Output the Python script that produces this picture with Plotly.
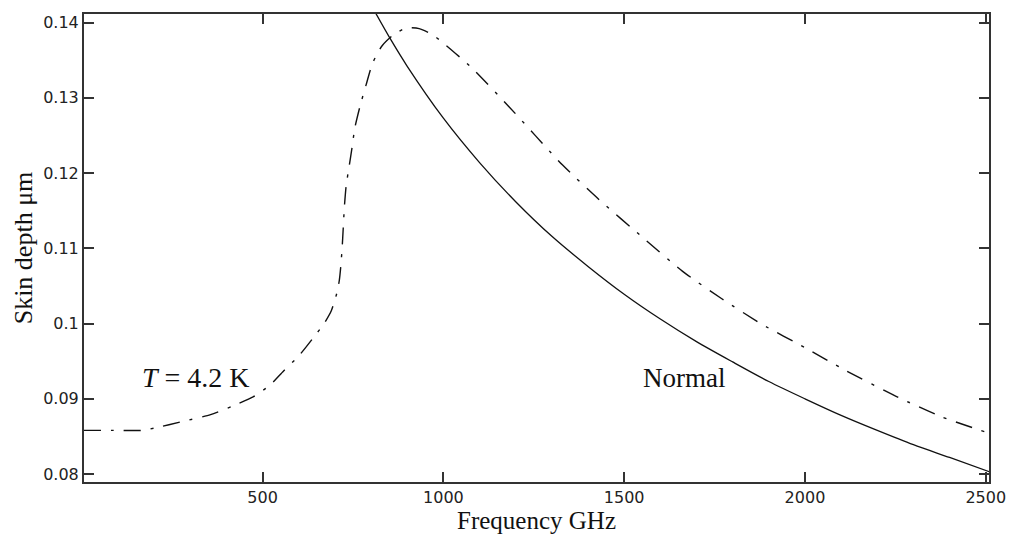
import plotly.graph_objects as go

# Normal-metal skin depth (solid curve)
freq_normal = [810, 855, 900, 1000, 1100, 1200, 1300, 1400, 1500, 1600, 1700,
               1800, 1900, 2000, 2100, 2200, 2300, 2400, 2510]
depth_normal = [0.1415, 0.1377, 0.1342, 0.1273, 0.1214, 0.1162, 0.1116, 0.1076,
                0.1039, 0.1006, 0.0976, 0.0949, 0.0923, 0.0900, 0.0878, 0.0858,
                0.0839, 0.0822, 0.0803]

# Superconducting skin depth at T = 4.2 K (dash-dot curve)
freq_sc = [5, 100, 166, 200, 280, 356, 420, 475, 520, 558, 600, 640, 670, 690,
           705, 712, 716, 720, 723, 726, 731, 740, 747, 755, 770, 786, 804, 830,
           860, 897, 933, 970, 1007, 1076, 1182, 1329, 1430, 1550, 1660, 1770,
           1881, 2000, 2111, 2258, 2378, 2505]
depth_sc = [0.0858, 0.0858, 0.0858, 0.0861, 0.0870, 0.0879, 0.0891, 0.0903,
            0.0918, 0.0937, 0.0957, 0.0981, 0.1000, 0.1017, 0.1040, 0.1057,
            0.1075, 0.1101, 0.1127, 0.1154, 0.1183, 0.1211, 0.1233, 0.1260,
            0.1290, 0.1317, 0.1346, 0.1369, 0.1383, 0.1393, 0.1392, 0.1384,
            0.1370, 0.1341, 0.1288, 0.1211, 0.1165, 0.1115, 0.1070, 0.1033,
            0.0999, 0.0968, 0.0938, 0.0902, 0.0876, 0.0855]

x_ticks = [500, 1000, 1500, 2000, 2500]
y_ticks = [0.08, 0.09, 0.10, 0.11, 0.12, 0.13, 0.14]
y_tick_text = ["0.08", "0.09", "0.1", "0.11", "0.12", "0.13", "0.14"]

fig = go.Figure()
fig.add_trace(go.Scatter(
    x=freq_normal, y=depth_normal, mode="lines",
    line=dict(color="#111111", width=1.3, shape="spline", smoothing=0.8),
    showlegend=False, hoverinfo="skip"))
fig.add_trace(go.Scatter(
    x=freq_sc, y=depth_sc, mode="lines",
    line=dict(color="#111111", width=1.4, dash="17px,10px,3px,10px",
              shape="spline", smoothing=0.6),
    showlegend=False, hoverinfo="skip"))

serif = "Liberation Serif, Times New Roman, serif"
fig.add_annotation(x=315, y=0.0928, text="<i>T</i> = 4.2 K", showarrow=False,
                   font=dict(family=serif, size=28, color="#111111"))
fig.add_annotation(x=1665, y=0.0928, text="Normal", showarrow=False,
                   font=dict(family=serif, size=27, color="#111111"))

axis_common = dict(showline=True, linecolor="#333333", linewidth=2, mirror="ticks",
                   ticks="inside", ticklen=10, tickwidth=1.5, tickcolor="#333333",
                   showgrid=False, zeroline=False,
                   tickfont=dict(family="DejaVu Sans", size=16, color="#222222"))

fig.update_layout(
    width=1018, height=538,
    margin=dict(l=84, r=27, t=12, b=56),
    paper_bgcolor="white", plot_bgcolor="white",
    xaxis=dict(range=[6, 2509], tickvals=x_ticks,
               title=dict(text="Frequency GHz", standoff=0,
                          font=dict(family=serif, size=25, color="#111111")),
               **axis_common),
    yaxis=dict(range=[0.07894, 0.14115], tickvals=y_ticks, ticktext=y_tick_text,
               title=dict(text="Skin depth μm", standoff=3,
                          font=dict(family=serif, size=26, color="#111111")),
               **axis_common),
)

fig.write_html("out.html")
